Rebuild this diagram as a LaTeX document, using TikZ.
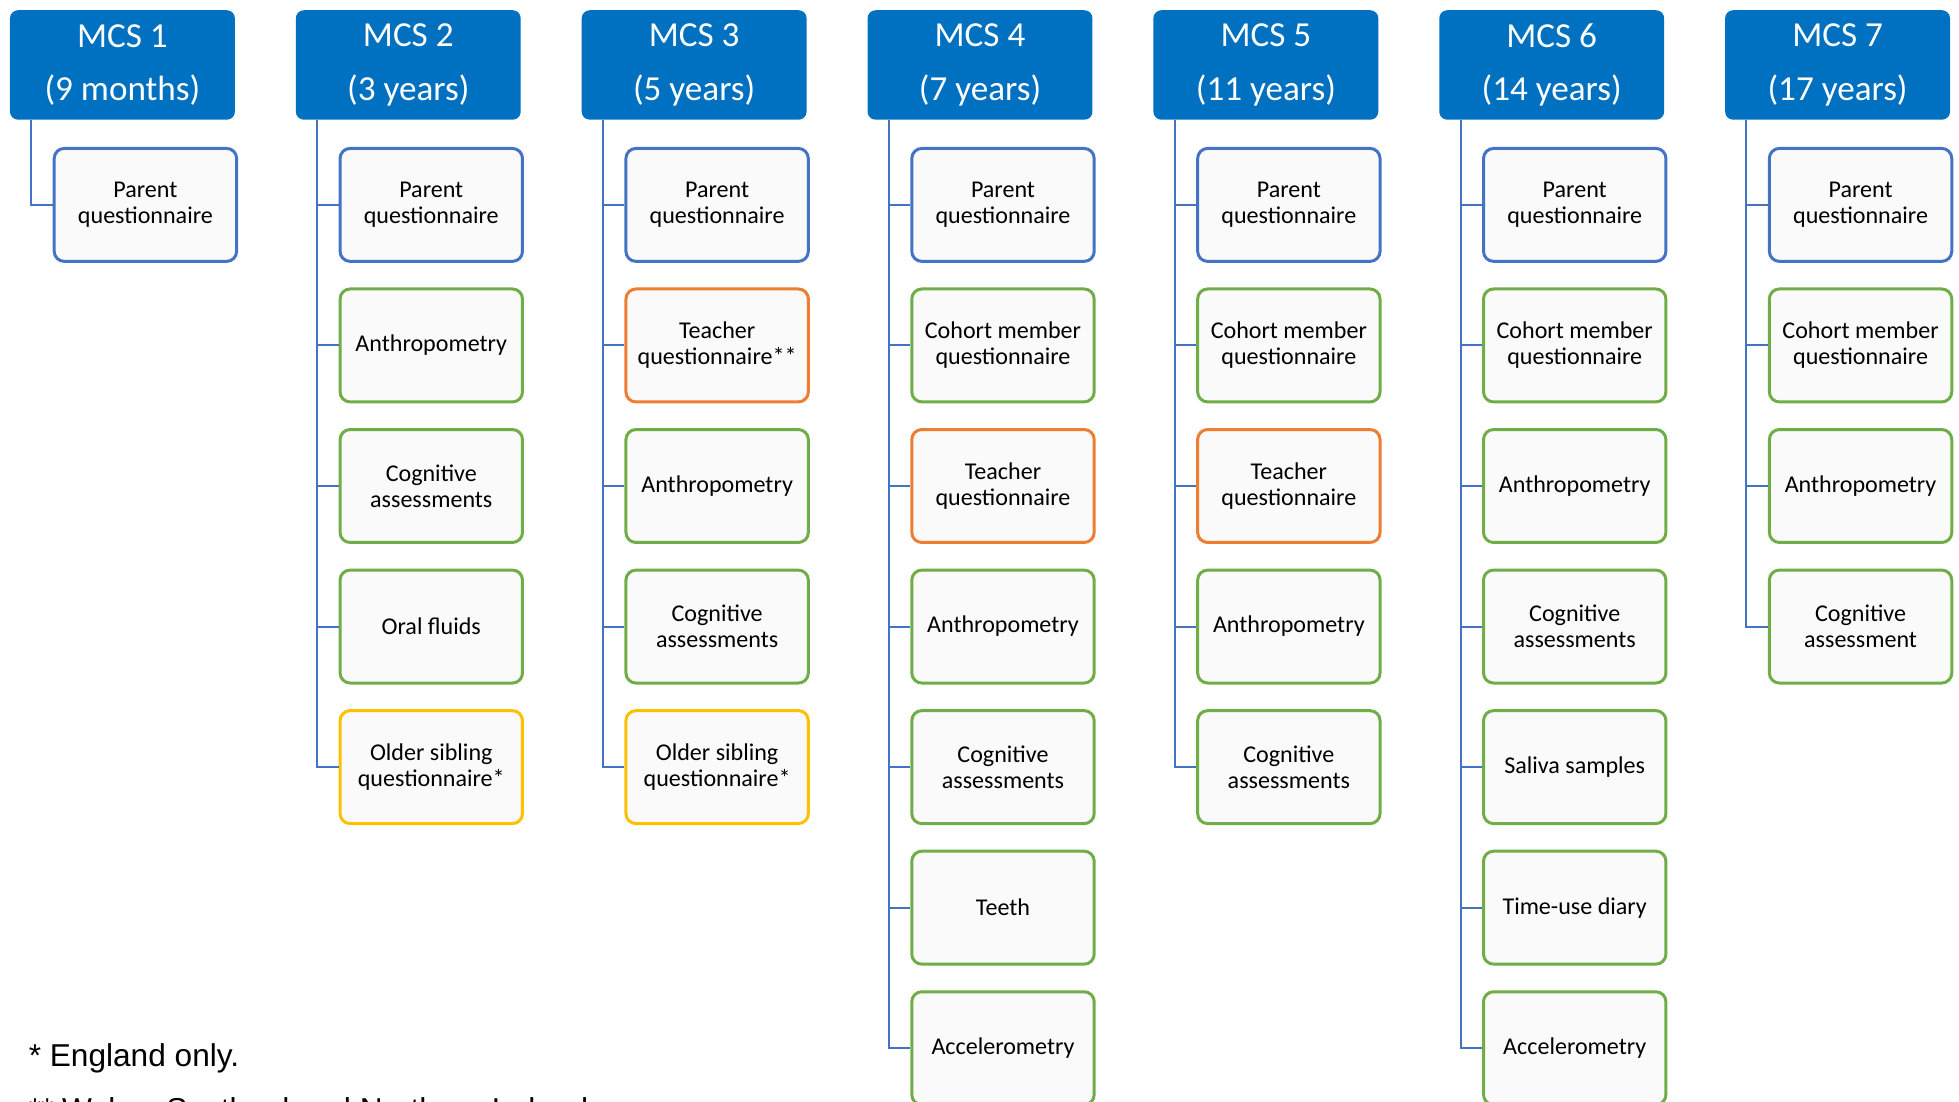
\documentclass[tikz,border=0pt]{standalone}
\usepackage{fontspec}
\setmainfont{Carlito}
\newfontfamily\notefont{Liberation Sans}

\definecolor{mcsblue}{HTML}{0070C0}
\definecolor{lineblue}{HTML}{4472C4}
\definecolor{boxgreen}{HTML}{70AD47}
\definecolor{boxorange}{HTML}{ED7D31}
\definecolor{boxgold}{HTML}{FFC000}

\tikzset{
  wave/.style={fill=mcsblue, text=white, rounded corners=0.16cm, minimum width=4.5cm,
    minimum height=2.19cm, inner sep=0pt, align=center, font=\fontsize{20}{30.5}\selectfont},
  item/.style={draw, line width=1.7pt, fill=white!98!black, rounded corners=0.2cm,
    minimum width=3.65cm, minimum height=2.26cm, inner sep=0pt, align=center,
    font=\fontsize{13.7}{14.9}\selectfont},
  itemblue/.style={item, draw=lineblue},
  itemgreen/.style={item, draw=boxgreen},
  itemorange/.style={item, draw=boxorange},
  itemgold/.style={item, draw=boxgold},
  link/.style={draw=lineblue, line width=1.1pt},
  note/.style={font=\notefont\fontsize{18}{20}\selectfont, inner sep=0pt, anchor=base west}
}

\begin{document}
\begin{tikzpicture}
\useasboundingbox (0,0) rectangle (39.2,-22.05);
\clip (0,0) rectangle (39.2,-22.05);

% sweeps
\node[wave] (h1) at (2.45,-1.30) {MCS 1\\(9 months)};
\node[wave] (h2) at (8.17,-1.30) {MCS 2\\(3 years)};
\node[wave] (h3) at (13.89,-1.30) {MCS 3\\(5 years)};
\node[wave] (h4) at (19.61,-1.30) {MCS 4\\(7 years)};
\node[wave] (h5) at (25.33,-1.30) {MCS 5\\(11 years)};
\node[wave] (h6) at (31.05,-1.30) {MCS 6\\(14 years)};
\node[wave] (h7) at (36.77,-1.30) {MCS 7\\(17 years)};

% MCS 1
\node[itemblue] (c1-1) at (2.91,-4.1) {Parent\\questionnaire};
\draw[link] ([xshift=0.4325cm]h1.south west) |- (c1-1.west);

% MCS 2
\foreach \j/\s/\t in {1/itemblue/{Parent\\questionnaire}, 2/itemgreen/Anthropometry,
    3/itemgreen/{Cognitive\\assessments}, 4/itemgreen/Oral fluids,
    5/itemgold/{Older sibling\\questionnaire*}}{
  \node[\s] (c2-\j) at (8.63,{-4.1-2.8125*(\j-1)}) {\t};
  \draw[link] ([xshift=0.4325cm]h2.south west) |- (c2-\j.west);
}

% MCS 3
\foreach \j/\s/\t in {1/itemblue/{Parent\\questionnaire}, 2/itemorange/{Teacher\\questionnaire**},
    3/itemgreen/Anthropometry, 4/itemgreen/{Cognitive\\assessments},
    5/itemgold/{Older sibling\\questionnaire*}}{
  \node[\s] (c3-\j) at (14.35,{-4.1-2.8125*(\j-1)}) {\t};
  \draw[link] ([xshift=0.4325cm]h3.south west) |- (c3-\j.west);
}

% MCS 4
\foreach \j/\s/\t in {1/itemblue/{Parent\\questionnaire}, 2/itemgreen/{Cohort member\\questionnaire},
    3/itemorange/{Teacher\\questionnaire}, 4/itemgreen/Anthropometry,
    5/itemgreen/{Cognitive\\assessments}, 6/itemgreen/Teeth, 7/itemgreen/Accelerometry}{
  \node[\s] (c4-\j) at (20.07,{-4.1-2.8125*(\j-1)}) {\t};
  \draw[link] ([xshift=0.4325cm]h4.south west) |- (c4-\j.west);
}

% MCS 5
\foreach \j/\s/\t in {1/itemblue/{Parent\\questionnaire}, 2/itemgreen/{Cohort member\\questionnaire},
    3/itemorange/{Teacher\\questionnaire}, 4/itemgreen/Anthropometry,
    5/itemgreen/{Cognitive\\assessments}}{
  \node[\s] (c5-\j) at (25.79,{-4.1-2.8125*(\j-1)}) {\t};
  \draw[link] ([xshift=0.4325cm]h5.south west) |- (c5-\j.west);
}

% MCS 6
\foreach \j/\s/\t in {1/itemblue/{Parent\\questionnaire}, 2/itemgreen/{Cohort member\\questionnaire},
    3/itemgreen/Anthropometry, 4/itemgreen/{Cognitive\\assessments},
    5/itemgreen/Saliva samples, 6/itemgreen/Time-use diary, 7/itemgreen/Accelerometry}{
  \node[\s] (c6-\j) at (31.51,{-4.1-2.8125*(\j-1)}) {\t};
  \draw[link] ([xshift=0.4325cm]h6.south west) |- (c6-\j.west);
}

% MCS 7
\foreach \j/\s/\t in {1/itemblue/{Parent\\questionnaire}, 2/itemgreen/{Cohort member\\questionnaire},
    3/itemgreen/Anthropometry, 4/itemgreen/{Cognitive\\assessment}}{
  \node[\s] (c7-\j) at (37.23,{-4.1-2.8125*(\j-1)}) {\t};
  \draw[link] ([xshift=0.4325cm]h7.south west) |- (c7-\j.west);
}

% footnotes
\node[note] (fn1) at (0.57,-21.35) {* England only.};
\node[note] (fn2) at (0.57,-22.43) {** Wales, Scotland and Northern Ireland.};
\end{tikzpicture}
\end{document}
